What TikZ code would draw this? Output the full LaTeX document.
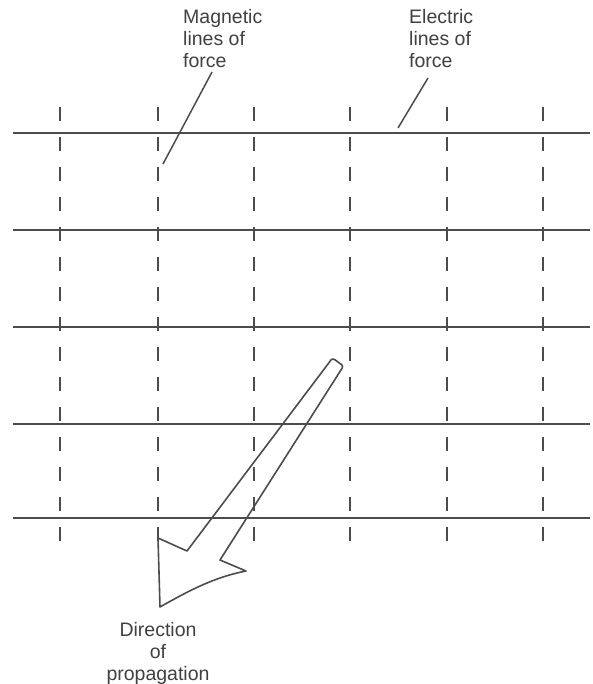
\documentclass[tikz,border=0pt]{standalone}
\usepackage{fontspec}
\setmainfont{Liberation Sans}
\begin{document}
\begin{tikzpicture}[x=1pt,y=-1pt,
  ink/.style={draw=black!70, line width=1.8pt},
  eline/.style={ink},
  mline/.style={ink, dash pattern=on 14pt off 16pt},
  leader/.style={draw=black!70, line width=1.5pt},
  lbl/.style={font=\fontsize{19.5}{22}\selectfont, text=black!75, inner sep=0pt}]
\useasboundingbox (0,0) rectangle (593,684);
% electric lines (horizontal)
\foreach \y/\n in {133/e1,230/e2,327/e3,424/e4,518/e5}{
  \coordinate (\n a) at (13,\y); \coordinate (\n b) at (590,\y);
  \draw[eline] (\n a) -- (\n b);
}
% magnetic lines (dashed vertical)
\foreach \x/\n in {60/m1,158/m2,254/m3,350/m4,447/m5,543/m6}{
  \coordinate (\n a) at (\x,107); \coordinate (\n b) at (\x,542);
  \draw[mline] (\n a) -- (\n b);
}
% labels
\node[lbl, anchor=north west, align=left] (mag) at (183,9) {Magnetic\\lines of\\force};
\node[lbl, anchor=north west, align=left] (ele) at (409,9) {Electric\\lines of\\force};
\node[lbl, anchor=north, align=center] (dir) at (158,622) {Direction\\of\\propagation};
% leaders
\coordinate (ml1) at (212,72); \coordinate (ml2) at (163,164);
\draw[leader] (ml1) -- (ml2);
\coordinate (el1) at (428,78); \coordinate (el2) at (398,128);
\draw[leader] (el1) -- (el2);
% arrow
\coordinate (t1) at (332.5,358);
\coordinate (t2) at (343.5,366);
\coordinate (sl) at (187,551);
\coordinate (bl) at (158,538);
\coordinate (tip) at (160,607);
\coordinate (br) at (246,571);
\coordinate (sr) at (220,560);
\draw[ink, line width=1.6pt, line join=round]
  (sr) [rounded corners=2.5pt] -- (t2) -- (t1) [sharp corners] -- (sl) -- (bl) -- (tip)
  .. controls (190,590) and (215,577) .. (br) -- cycle;
\end{tikzpicture}
\end{document}
